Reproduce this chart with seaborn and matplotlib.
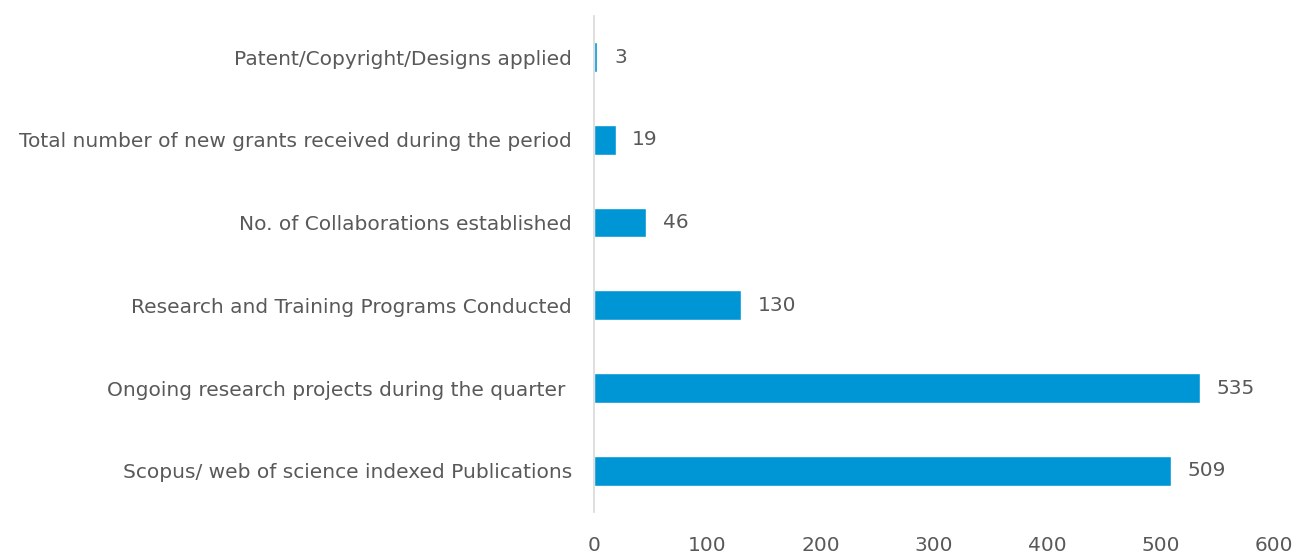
import matplotlib
matplotlib.use("Agg")
import matplotlib.pyplot as plt
import seaborn as sns
import pandas as pd

categories = [
    "Patent/Copyright/Designs applied",
    "Total number of new grants received during the period",
    "No. of Collaborations established",
    "Research and Training Programs Conducted",
    "Ongoing research projects during the quarter ",
    "Scopus/ web of science indexed Publications",
]
values = [3, 19, 46, 130, 535, 509]
x_ticks = [0, 100, 200, 300, 400, 500, 600]

sns.set_theme(style="white")
plt.rcParams["font.family"] = ["DejaVu Sans"]

df = pd.DataFrame({"category": categories, "value": values})

fig = plt.figure(figsize=(12.97, 5.58), dpi=100)
ax = fig.add_axes([0.458, 0.082, 0.524, 0.890])
sns.barplot(data=df, x="value", y="category", color="#0096D6", width=0.36,
            saturation=1, ax=ax, orient="h")

text_color = "#595959"
fs = 14.5
for i, v in enumerate(values):
    ax.annotate(str(v), xy=(v, i), xytext=(12, 0), textcoords="offset points",
                va="center", ha="left", fontsize=fs, color=text_color)

ax.set_xlim(0, 600)
ax.set_xticks(x_ticks)
ax.set_xticklabels([str(t) for t in x_ticks])
ax.set_xlabel("")
ax.set_ylabel("")
ax.tick_params(axis="x", length=0, pad=17, labelsize=fs, labelcolor=text_color)
ax.tick_params(axis="y", length=0, pad=16, labelsize=fs, labelcolor=text_color)

for s in ["top", "right", "bottom"]:
    ax.spines[s].set_visible(False)
ax.spines["left"].set_color("#d9d9d9")
ax.spines["left"].set_linewidth(1.2)
ax.grid(False)

fig.savefig("out.png", dpi=100)
